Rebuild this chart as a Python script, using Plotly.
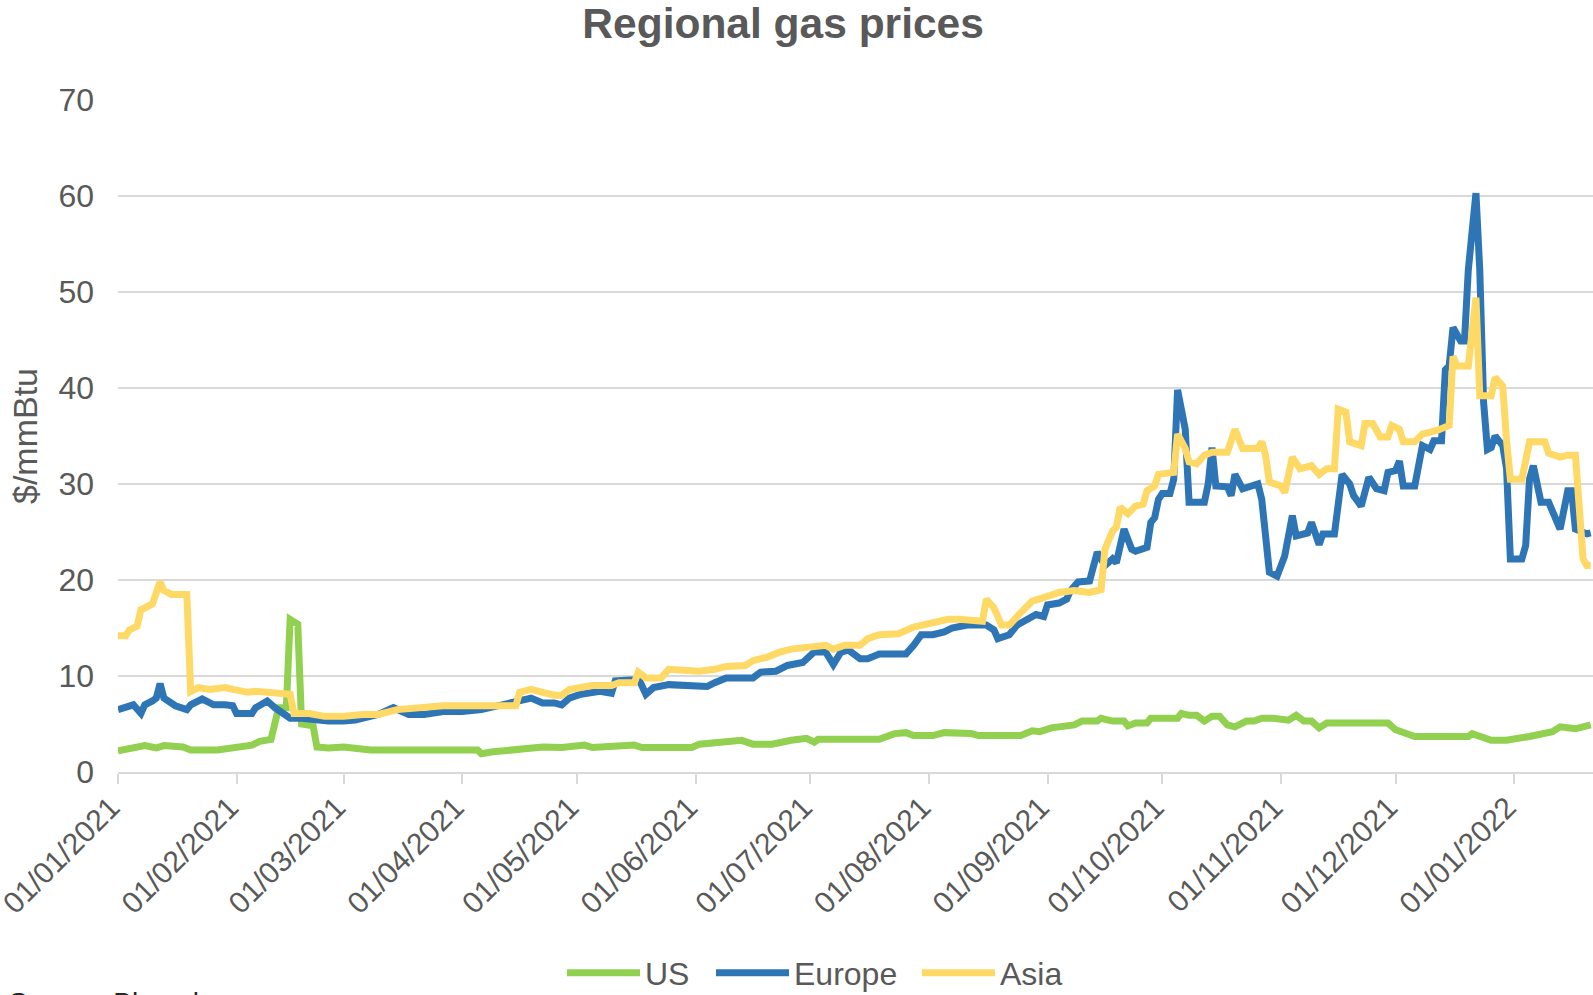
import pandas as pd
import plotly.graph_objects as go

START = pd.Timestamp("2021-01-01")

# x values: days since 01/01/2021 ; y values: $/mmBtu
us_days = [0,3,7,10,12,17,19,26,31,35,37,40,42,44,45,47,48,51,52,55,59,62,66,94,95,98,107,111,116,122,
           124,135,137,150,152,161,163,166,171,176,180,182,183,199,203,206,208,213,216,223,225,236,239,241,244,
           250,252,256,257,260,263,264,266,269,270,277,278,280,282,284,286,288,290,292,295,297,299,302,306,308,
           310,312,314,316,332,334,337,339,353,354,359,363,369,375,377,381,385]
us_vals = [2.2,2.5,2.75,2.5,2.75,2.6,2.3,2.3,2.6,2.8,3.2,3.4,6.7,6.7,15.9,15.4,5.0,4.8,2.6,2.5,
           2.6,2.5,2.3,2.3,1.9,2.1,2.5,2.6,2.55,2.8,2.55,2.8,2.55,2.55,2.9,3.1,3.3,2.9,2.9,3.3,
           3.5,3.1,3.4,3.4,4.0,4.1,3.8,3.8,4.1,4.0,3.8,3.8,4.3,4.2,4.6,4.9,5.3,5.3,5.6,5.3,
           5.3,4.8,5.1,5.1,5.6,5.6,6.1,5.9,5.9,5.3,5.8,5.8,4.9,4.7,5.3,5.3,5.6,5.6,5.4,5.9,
           5.3,5.3,4.6,5.1,5.1,4.4,3.9,3.7,3.7,4.0,3.3,3.3,3.7,4.2,4.7,4.5,4.9]

europe_days = [0,2,4,6,7,9,10,11,12,15,16,18,19,22,23,25,28,30,31,35,36,39,41,43,45,48,52,55,59,62,
               68,72,76,80,85,90,95,101,104,108,111,114,116,118,121,124,126,129,130,135,136,138,140,144,150,
               154,156,159,166,168,172,175,179,182,185,187,189,191,194,196,199,206,208,210,213,216,218,220,222,227,
               229,230,233,235,237,240,242,243,246,248,249,251,254,256,258,260,261,263,265,266,269,270,271,272,273,
               275,276,277,279,280,284,285,286,287,290,291,292,294,298,299,301,303,305,307,308,311,312,314,315,318,
               320,322,323,325,327,329,331,332,334,335,336,339,341,343,344,346,347,348,349,351,352,353,355,356,357,
               358,359,360,362,363,364,367,368,369,370,372,374,376,377,379,380,381,384,385]
europe_vals = [6.5,6.7,7.0,6.1,7.0,7.4,7.7,9.2,7.7,6.9,6.7,6.5,7.0,7.6,7.4,7.0,7.0,6.9,6.1,6.1,
               6.7,7.4,6.7,6.1,5.6,5.6,5.4,5.3,5.3,5.4,6.0,6.7,6.0,6.0,6.3,6.3,6.5,7.0,7.2,7.7,
               7.2,7.2,7.0,7.7,8.1,8.2,8.4,8.2,9.5,9.6,9.8,8.1,8.8,9.1,8.9,8.9,9.3,9.8,9.8,10.4,
               10.5,11.1,11.4,12.5,12.5,11.2,12.5,12.7,11.8,11.8,12.3,12.3,13.2,14.3,14.3,14.6,15.0,15.1,15.3,15.3,
               14.8,13.9,14.3,15.3,15.7,16.4,16.2,17.4,17.6,18.0,18.9,19.8,19.9,22.9,21.5,22.2,21.8,25.3,23.2,23.0,
               23.4,26.0,26.5,28.4,29.0,29.0,30.5,39.8,35.7,28.1,28.1,30.0,33.8,29.8,29.7,28.8,31.0,29.5,30.0,28.4,
               20.8,20.4,22.5,26.7,24.6,24.9,26.0,23.7,24.8,24.8,31.0,30.0,28.8,27.7,30.7,29.5,29.3,31.2,31.4,32.4,
               29.8,29.8,34.0,33.6,34.5,34.5,41.9,42.3,46.3,44.9,44.9,52.3,60.3,52.3,38.5,33.6,33.8,35.0,34.0,31.6,
               22.2,22.2,23.6,30.5,31.9,28.1,28.1,26.1,25.3,29.3,29.3,25.3,24.8,24.9]

asia_days = [0,2,3,5,6,8,9,11,12,14,18,19,21,24,28,30,34,36,40,45,46,50,54,59,64,68,73,80,85,94,
             104,105,108,111,114,116,118,121,124,129,131,135,136,138,142,144,149,152,156,159,
             164,166,170,173,176,180,185,187,190,194,196,199,204,208,210,213,217,220,224,226,
             227,229,231,233,236,239,243,246,250,254,257,258,260,261,262,264,266,268,269,271,
             272,276,277,279,280,282,284,286,290,291,292,294,298,299,300,301,304,305,307,309,
             312,314,316,318,319,321,322,325,326,328,330,332,333,335,336,339,341,345,348,349,
             350,353,355,356,359,360,362,363,364,367,369,373,374,377,379,381,383,384,385]
asia_vals = [14.2,14.2,14.8,15.2,16.9,17.3,17.5,19.8,18.9,18.5,18.5,8.4,8.8,8.6,8.8,8.6,8.3,8.4,8.3,8.1,
             6.1,6.1,5.8,5.8,6.0,6.0,6.5,6.7,6.9,6.9,6.9,8.3,8.6,8.3,8.0,8.0,8.6,8.8,9.0,9.0,
             9.3,9.3,10.4,9.8,9.8,10.7,10.5,10.5,10.7,11.0,11.1,11.6,12.0,12.5,12.8,13.0,13.2,12.8,13.2,13.2,
             13.9,14.3,14.4,15.1,15.3,15.5,15.9,15.9,15.7,15.7,18.0,17.1,15.3,15.3,16.6,17.8,18.3,18.7,18.9,18.7,
             19.0,23.2,25.1,25.5,27.6,26.9,27.7,27.9,29.3,29.8,31.0,31.2,35.2,33.7,32.3,32.1,33.0,33.3,33.3,34.7,
             35.7,33.7,33.7,34.4,33.0,30.2,29.8,29.1,32.8,31.6,31.9,31.0,31.6,31.6,37.8,37.5,34.4,34.0,36.3,36.3,
             34.9,34.9,36.1,35.7,34.4,34.4,35.2,35.6,36.1,43.3,42.3,42.3,49.4,39.2,39.2,41.1,40.2,34.5,30.5,30.5,
             34.4,34.4,33.2,32.8,33.0,33.0,22.2,21.5,21.5]

tick_dates = ["2021-01-01", "2021-02-01", "2021-03-01", "2021-04-01", "2021-05-01", "2021-06-01",
              "2021-07-01", "2021-08-01", "2021-09-01", "2021-10-01", "2021-11-01", "2021-12-01",
              "2022-01-01"]
tick_labels = ["01/01/2021", "01/02/2021", "01/03/2021", "01/04/2021", "01/05/2021", "01/06/2021",
               "01/07/2021", "01/08/2021", "01/09/2021", "01/10/2021", "01/11/2021", "01/12/2021",
               "01/01/2022"]


def to_dates(days):
    return [START + pd.Timedelta(days=d) for d in days]


FONT = "Liberation Sans, Arial, sans-serif"
GREY = "#595959"
GRID = "#D9D9D9"
L, T, B, W, H = 118, 100, 223, 1593, 995
PW = W - L

fig = go.Figure()
series = [
    ("US", us_days, us_vals, "#92D050", "legend"),
    ("Europe", europe_days, europe_vals, "#2E75B6", "legend2"),
    ("Asia", asia_days, asia_vals, "#FFD966", "legend3"),
]
for name, d, v, c, lg in series:
    fig.add_trace(go.Scatter(x=to_dates(d), y=v, mode="lines", name=name, legend=lg,
                             showlegend=True, line=dict(color=c, width=7)))

legend_common = dict(orientation="h", xanchor="left", y=-0.299, yanchor="middle",
                     font=dict(size=32, color=GREY, family=FONT), visible=True,
                     itemwidth=73, bgcolor="rgba(0,0,0,0)", borderwidth=0)

fig.update_layout(
    width=W, height=H, showlegend=True,
    margin=dict(l=L, r=0, t=T, b=B, autoexpand=False),
    paper_bgcolor="white", plot_bgcolor="white",
    font=dict(family=FONT, color=GREY),
    title=dict(text="<b>Regional gas prices</b>", x=0.4916, xanchor="center",
               y=0.992, yanchor="top", font=dict(size=42.5, color=GREY, family=FONT)),
    legend=dict(x=(567 - 5 - L) / PW, **legend_common),
    legend2=dict(x=(716 - 5 - L) / PW, **legend_common),
    legend3=dict(x=(922 - 5 - L) / PW, **legend_common),
    annotations=[dict(text="Source: Bloomberg", xref="paper", yref="paper", x=-0.0753, y=-0.317,
                      xanchor="left", yanchor="top", showarrow=False,
                      font=dict(size=28, color="#262626", family=FONT))],
)
fig.update_xaxes(
    range=[START, START + pd.Timedelta(days=385.6)], automargin=False,
    tickvals=tick_dates, ticktext=tick_labels, tickangle=-45,
    tickfont=dict(size=30, color=GREY), ticklabelstandoff=-6, ticklabelshift=-7,
    ticklabeloverflow="allow",
    showgrid=False, showline=True, linecolor=GRID, linewidth=1.5,
    ticks="outside", ticklen=10, tickcolor=GRID, tickwidth=1.5,
)
fig.update_yaxes(
    range=[0, 70], dtick=10, tickfont=dict(size=32, color=GREY), automargin=False,
    showgrid=True, gridcolor=GRID, gridwidth=1.5, zeroline=False,
    ticklabelstandoff=23, ticklabeloverflow="allow",
    title=dict(text="$/mmBtu", font=dict(size=34, color=GREY), standoff=10),
)

fig.write_html("out.html", config={"displayModeBar": False},
               post_script="document.body.style.margin='0px';")
